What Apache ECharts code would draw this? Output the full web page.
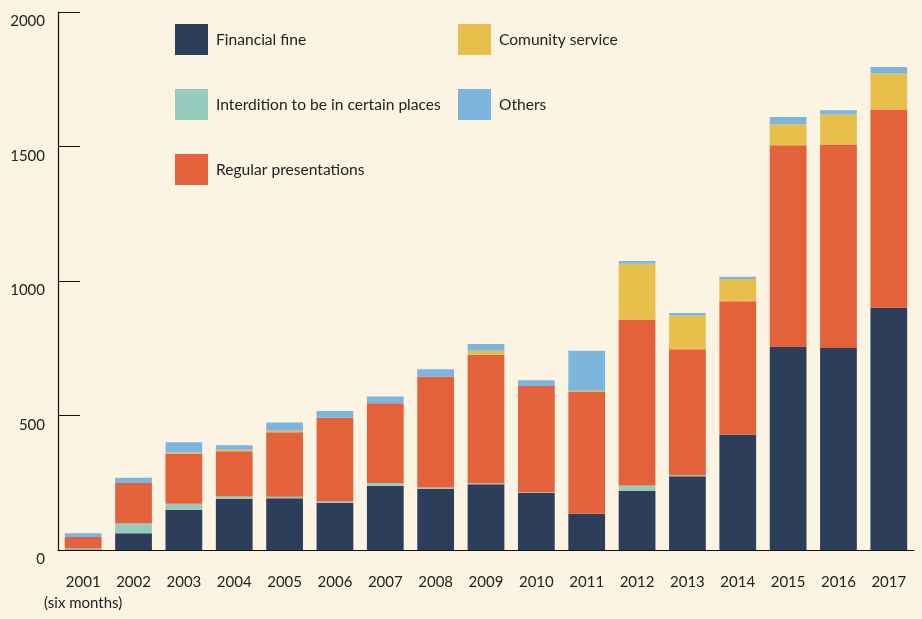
<!DOCTYPE html>
<html>
<head>
<meta charset="utf-8">
<script src="https://cdn.jsdelivr.net/npm/echarts@6/dist/echarts.min.js"></script>
<style>
html,body{margin:0;padding:0;background:#fbf4e2;}
#chart{width:922px;height:619px;}
</style>
</head>
<body>
<div id="chart"></div>
<script>
var years = ['2001\n(six months)','2002','2003','2004','2005','2006','2007','2008','2009','2010','2011','2012','2013','2014','2015','2016','2017'];
var financialFine = [2, 62, 150, 190, 192, 175, 238, 228, 244, 212, 135, 219, 274, 429, 755, 751, 901];
var interdition   = [4, 37, 22, 9, 6, 6, 11, 4, 4, 3, 0, 21, 4, 0, 0, 0, 0];
var regular       = [42, 150, 187, 168, 240, 311, 297, 413, 478, 395, 452, 617, 468, 496, 750, 756, 737];
var community     = [0, 0, 3, 6, 5, 0, 0, 0, 15, 0, 5, 207, 126, 82, 78, 112, 133];
var others        = [14, 20, 39, 16, 31, 25, 25, 27, 25, 21, 149, 10, 9, 9, 27, 16, 25];
var yTicks = [0, 500, 1000, 1500, 2000];

var FONT = 'Lato';
var chart = echarts.init(document.getElementById('chart'));
function bar(name, data, color) {
  return { name: name, type: 'bar', stack: 'total', data: data, barCategoryGap: '27%',
           itemStyle: { color: color }, emphasis: { disabled: true } };
}
var legendText = { fontFamily: FONT, fontSize: 15.6, color: '#222', padding: [0, 0, 0, 3] };
chart.setOption({
  backgroundColor: '#fbf4e2',
  animation: false,
  legend: [
    { orient: 'vertical', left: 175, top: 24, padding: 0, itemWidth: 33, itemHeight: 31, itemGap: 34,
      icon: 'rect', textStyle: legendText, selectedMode: false,
      data: ['Financial fine', 'Interdition to be in certain places', 'Regular presentations'] },
    { orient: 'vertical', left: 458, top: 24, padding: 0, itemWidth: 33, itemHeight: 31, itemGap: 34,
      icon: 'rect', textStyle: legendText, selectedMode: false,
      data: ['Comunity service', 'Others'] }
  ],
  grid: { left: 58, right: 8, top: 12, bottom: 69, containLabel: false },
  xAxis: {
    type: 'category', data: years,
    axisLine: { lineStyle: { color: '#111', width: 1.2 } },
    axisTick: { inside: true, length: 13, interval: 0, lineStyle: { color: '#111' } },
    axisLabel: { interval: 0, margin: 22, fontFamily: FONT, fontSize: 15, color: '#222', lineHeight: 21 }
  },
  yAxis: {
    type: 'value', min: yTicks[0], max: yTicks[yTicks.length - 1], interval: 500,
    axisLine: { show: true, lineStyle: { color: '#111', width: 1.2 } },
    axisTick: { show: true, inside: true, length: 22, lineStyle: { color: '#111' } },
    splitLine: { show: false },
    axisLabel: { margin: 13, fontFamily: FONT, fontSize: 15, color: '#222', verticalAlign: 'top',
                 padding: [2, 0, 0, 0],
                 formatter: function (v) { return String(v); } }
  },
  series: [
    bar('Financial fine', financialFine, '#2c3e5a'),
    bar('Interdition to be in certain places', interdition, '#97cbbd'),
    bar('Regular presentations', regular, '#e3613b'),
    bar('Comunity service', community, '#e9bf4b'),
    bar('Others', others, '#7cb6de')
  ]
});
</script>
</body>
</html>
